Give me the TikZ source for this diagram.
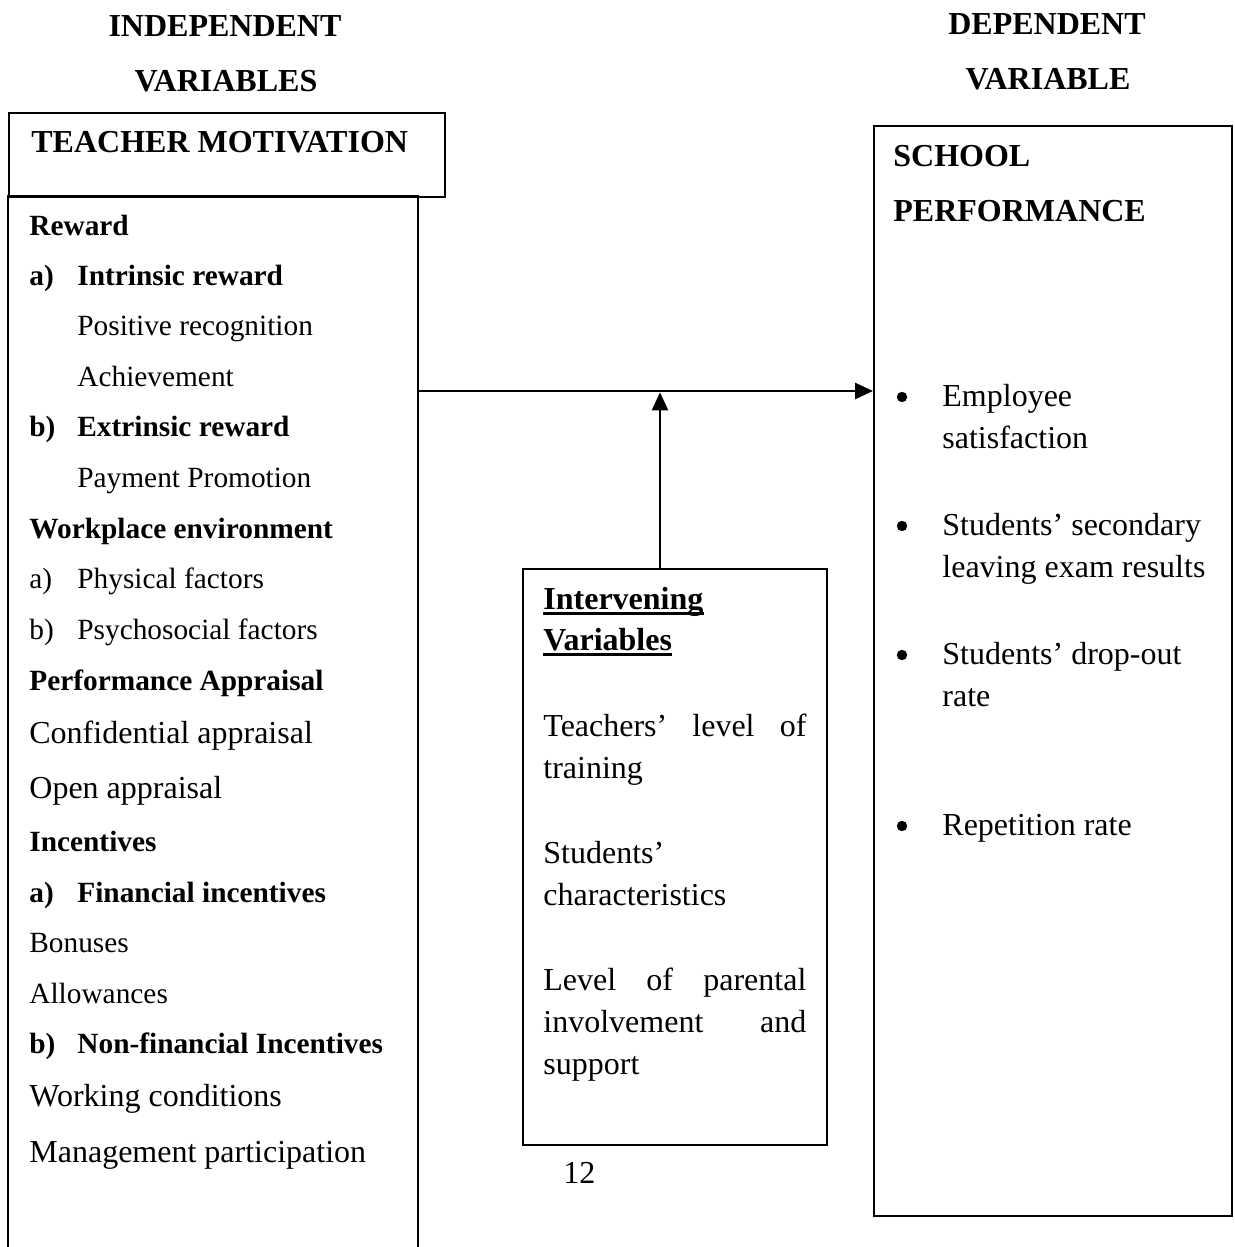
\documentclass[tikz,border=0pt]{standalone}
\usepackage{fontspec}
\setmainfont{Liberation Serif}
\usetikzlibrary{arrows.meta}
\begin{document}
\begin{tikzpicture}[x=0.5pt,y=-0.5pt,
  box/.style={draw, line width=1pt, inner sep=0pt, anchor=north west},
  txt/.style={inner sep=0pt, anchor=base west, font=\fontsize{16}{19}\selectfont},
  txtb/.style={inner sep=0pt, anchor=base west, font=\fontsize{16}{19}\selectfont\bfseries},
  sml/.style={inner sep=0pt, anchor=base west, font=\fontsize{14.67}{17}\selectfont},
  smlb/.style={inner sep=0pt, anchor=base west, font=\fontsize{14.67}{17}\selectfont\bfseries},
  head/.style={inner sep=0pt, anchor=base, font=\fontsize{16}{19}\selectfont\bfseries},
  bul/.style={circle, fill=black, inner sep=0pt, minimum size=5.2pt},
  arr/.style={line width=1.35pt, -{Triangle[length=9pt,width=8pt]}}]
\useasboundingbox[fill=white] (0,0) rectangle (1235,1247);

% headings
\node[head] (h1) at (225,37) {INDEPENDENT};
\node[head] (h2) at (226,92) {VARIABLES};
\node[head] (h3) at (1047,35) {DEPENDENT};
\node[head] (h4) at (1048,90) {VARIABLE};

% teacher motivation box
\node[box, minimum width=218pt, minimum height=42pt] (tm) at (8,112) {};
\node[txtb] (tmt) at (31,152) {TEACHER MOTIVATION};

% lower left box (open at bottom)
\coordinate (lbl) at (8,196);
\coordinate (lbr) at (418,196);
\coordinate (hstart) at (418,391);
\draw[line width=1pt] (8,1247) -- (lbl) -- (lbr) -- (418,1247);

% left list
\node[smlb] (l1) at (29,235) {Reward};
\node[smlb] (l2a) at (29,285) {a)};
\node[smlb] (l2) at (77,285) {Intrinsic reward};
\node[sml] (l3) at (77,335) {Positive recognition};
\node[sml] (l4) at (77,386) {Achievement};
\node[smlb] (l5a) at (29,436) {b)};
\node[smlb] (l5) at (77,436) {Extrinsic reward};
\node[sml] (l6) at (77,487) {Payment Promotion};
\node[smlb] (l7) at (29,538) {Workplace environment};
\node[sml] (l8a) at (29,588) {a)};
\node[sml] (l8) at (77,588) {Physical factors};
\node[sml] (l9a) at (29,639) {b)};
\node[sml] (l9) at (77,639) {Psychosocial factors};
\node[smlb] (l10) at (29,690) {Performance Appraisal};
\node[txt] (l11) at (29,743) {Confidential appraisal};
\node[txt] (l12) at (29,798) {Open appraisal};
\node[smlb] (l13) at (29,851) {Incentives};
\node[smlb] (l14a) at (29,902) {a)};
\node[smlb] (l14) at (77,902) {Financial incentives};
\node[sml] (l15) at (29,952) {Bonuses};
\node[sml] (l16) at (29,1003) {Allowances};
\node[smlb] (l17a) at (29,1053) {b)};
\node[smlb] (l17) at (77,1053) {Non-financial Incentives};
\node[txt] (l18) at (29,1106) {Working conditions};
\node[txt] (l19) at (29,1162) {Management participation};

% school performance box
\node[box, minimum width=179pt, minimum height=545pt] (sp) at (873,125) {};
\node[txtb] (sp1) at (893,166) {SCHOOL};
\node[txtb] (sp2) at (893,221) {PERFORMANCE};
\node[bul] (b1) at (902,397) {};
\node[txt] (r1) at (942,406) {Employee};
\node[txt] (r2) at (942,448) {satisfaction};
\node[bul] (b2) at (902,526) {};
\node[txt] (r3) at (942,535) {Students’ secondary};
\node[txt] (r4) at (942,577) {leaving exam results};
\node[bul] (b3) at (902,655) {};
\node[txt] (r5) at (942,664) {Students’ drop-out};
\node[txt] (r6) at (942,706) {rate};
\node[bul] (b4) at (902,826) {};
\node[txt] (r7) at (942,835) {Repetition rate};

% intervening box
\node[box, minimum width=152pt, minimum height=288pt] (iv) at (522,568) {};
\coordinate (ivtop) at (660,568);
\node[txtb] (iv1) at (543,609) {Intervening};
\node[txtb] (iv2) at (543,650) {Variables};
\draw[line width=1.2pt] ([yshift=-2.2pt]iv1.base west) -- ([yshift=-2.2pt]iv1.base east);
\draw[line width=1.2pt] ([yshift=-2.2pt]iv2.base west) -- ([yshift=-2.2pt]iv2.base east);
\node[txt] (i1) at (543,736) {\hbox to 131.5pt{Teachers’\hfill level\hfill of}};
\node[txt] (i2) at (543,778) {training};
\node[txt] (i3) at (543,863) {Students’};
\node[txt] (i4) at (543,905) {characteristics};
\node[txt] (i5) at (543,990) {\hbox to 131.5pt{Level\hfill of\hfill parental}};
\node[txt] (i6) at (543,1032) {\hbox to 131.5pt{involvement\hfill and}};
\node[txt] (i7) at (543,1074) {support};

\node[txt] (pg) at (563,1183) {12};

% connectors
\draw[arr] (hstart) -- (hstart -| sp.west);
\draw[arr] (ivtop) -- ([yshift=-0.7pt]ivtop |- hstart);
\end{tikzpicture}
\end{document}
